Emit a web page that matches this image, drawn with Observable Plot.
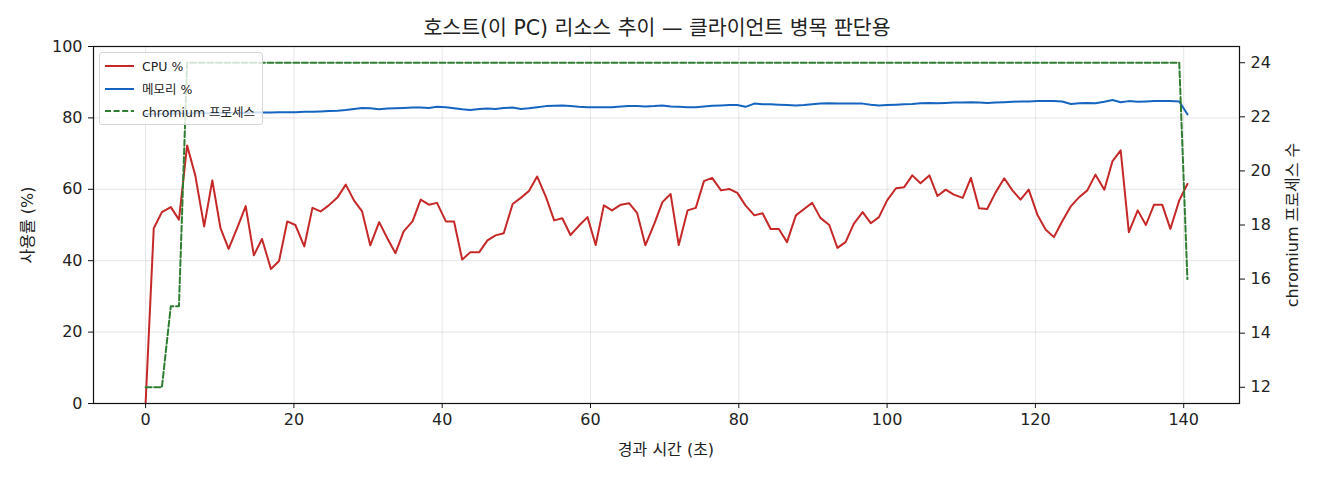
<!DOCTYPE html>
<html>
<head>
<meta charset="utf-8">
<script src="https://cdn.jsdelivr.net/npm/d3@7"></script>
<script src="https://cdn.jsdelivr.net/npm/@observablehq/plot@0.6"></script>
<style>
  html, body { margin: 0; padding: 0; background: #fff; }
  #wrap { position: relative; width: 1320px; height: 480px; font-family: "DejaVu Sans", "Noto Sans CJK KR", sans-serif; color: #222; }
  #chart { position: absolute; left: 0; top: 0; }
  #chart > svg { display: block; }
  .title { position: absolute; left: 84px; width: 1146px; top: 14px; text-align: center; font-size: 20.5px; line-height: 28px; }
  .xlabel { position: absolute; left: 93px; width: 1146px; top: 439px; text-align: center; font-size: 16px; line-height: 22px; }
  .ylabel { position: absolute; font-size: 16px; line-height: 22px; white-space: nowrap; transform: translate(-50%, -50%) rotate(-90deg); }
  .legend { position: absolute; left: 99px; top: 52px; width: 164px; height: 73px; background: rgba(255,255,255,0.8); border: 1px solid #d6d6d6; border-radius: 3px; box-sizing: border-box; }
  .legend .row { position: absolute; left: 5px; height: 20px; display: flex; align-items: center; font-size: 12.5px; white-space: nowrap; }
  .legend .row svg { display: block; margin-right: 8px; }
</style>
</head>
<body>
<div id="wrap">
  <div id="chart"></div>
  <div class="title">호스트(이 PC) 리소스 추이 — 클라이언트 병목 판단용</div>
  <div class="xlabel">경과 시간 (초)</div>
  <div class="ylabel" style="left:28px; top:225px;">사용률 (%)</div>
  <div class="ylabel" style="left:1293px; top:225px;">chromium 프로세스 수</div>
  <div class="legend" id="legend"></div>
</div>
<script>
// ---- data ----
const times = [0.0,1.1,2.2,3.4,4.5,5.6,6.7,7.9,9.0,10.1,11.2,12.4,13.5,14.6,15.7,16.9,18.0,19.1,20.2,21.4,
  22.5,23.6,24.7,25.9,27.0,28.1,29.2,30.3,31.5,32.6,33.7,34.8,36.0,37.1,38.2,39.3,40.5,41.6,42.7,43.8,
  45.0,46.1,47.2,48.3,49.5,50.6,51.7,52.8,54.0,55.1,56.2,57.3,58.4,59.6,60.7,61.8,62.9,64.1,65.2,66.3,
  67.4,68.6,69.7,70.8,71.9,73.1,74.2,75.3,76.4,77.6,78.7,79.8,80.9,82.1,83.2,84.3,85.4,86.5,87.7,88.8,
  89.9,91.0,92.2,93.3,94.4,95.5,96.7,97.8,98.9,100.0,101.2,102.3,103.4,104.5,105.7,106.8,107.9,109.0,110.2,111.3,
  112.4,113.5,114.6,115.8,116.9,118.0,119.1,120.3,121.4,122.5,123.6,124.8,125.9,127.0,128.1,129.3,130.4,131.5,132.6,133.8,
  134.9,136.0,137.1,138.2,139.4,140.5];
const cpuPct = [0,49.1,53.6,55.0,51.5,72.3,63.9,49.6,62.5,49.1,43.3,49.4,55.3,41.5,46.1,37.7,39.9,51.0,50.0,44.0,
  54.8,53.8,55.5,57.8,61.3,56.9,53.8,44.3,50.8,46.3,42.1,48.2,51.0,57.1,55.7,56.2,51.0,51.0,40.3,42.4,
  42.4,45.7,47.1,47.7,55.9,57.6,59.5,63.6,57.8,51.3,51.9,47.2,49.7,52.2,44.4,55.5,54.1,55.7,56.1,53.3,
  44.3,50.3,56.4,58.7,44.4,54.1,54.8,62.3,63.2,59.7,60.1,59.0,55.5,52.7,53.3,48.9,48.9,45.2,52.7,54.5,
  56.2,52.0,50.0,43.6,45.2,50.3,53.6,50.5,52.2,56.9,60.3,60.6,63.9,61.7,63.9,58.1,59.9,58.5,57.6,63.2,
  54.7,54.5,59.0,63.1,59.7,57.1,59.9,52.7,48.7,46.6,51.0,55.3,57.8,59.7,64.1,59.9,67.9,70.9,48.0,54.1,
  50.0,55.7,55.7,48.9,56.9,61.5];
const memPct = [81.0,81.1,81.1,81.2,81.2,81.2,81.3,81.3,81.3,81.4,81.4,81.4,81.4,81.5,81.5,81.5,81.6,81.6,81.6,81.7,
  81.7,81.8,81.9,82.0,82.2,82.5,82.8,82.7,82.4,82.6,82.7,82.8,82.9,82.9,82.8,83.1,83.0,82.7,82.4,82.2,
  82.5,82.6,82.5,82.8,82.9,82.5,82.7,83.0,83.3,83.4,83.5,83.3,83.1,83.0,83.0,83.0,83.0,83.2,83.3,83.3,
  83.2,83.3,83.5,83.2,83.1,83.0,83.0,83.2,83.4,83.5,83.6,83.6,83.1,84.0,83.8,83.8,83.7,83.6,83.5,83.6,
  83.8,84.0,84.1,84.0,84.0,84.0,84.0,83.7,83.5,83.6,83.7,83.8,83.9,84.1,84.2,84.1,84.2,84.3,84.3,84.4,
  84.3,84.2,84.3,84.4,84.5,84.6,84.6,84.7,84.7,84.7,84.6,83.9,84.1,84.2,84.1,84.5,85.0,84.4,84.7,84.5,
  84.6,84.7,84.7,84.7,84.6,81.0];
const procCount = [12,12,12,15,15,24,24,24,24,24,24,24,24,24,24,24,24,24,24,24,
  24,24,24,24,24,24,24,24,24,24,24,24,24,24,24,24,24,24,24,24,
  24,24,24,24,24,24,24,24,24,24,24,24,24,24,24,24,24,24,24,24,
  24,24,24,24,24,24,24,24,24,24,24,24,24,24,24,24,24,24,24,24,
  24,24,24,24,24,24,24,24,24,24,24,24,24,24,24,24,24,24,24,24,
  24,24,24,24,24,24,24,24,24,24,24,24,24,24,24,24,24,24,24,24,
  24,24,24,24,24,16];
const xTicks = [0,20,40,60,80,100,120,140];
const yTicks = [0,20,40,60,80,100];
const procTicks = [12,14,16,18,20,22,24];
const seriesNames = ["CPU %", "메모리 %", "chromium 프로세스"];
const seriesColors = ["#c62828", "#1565c0", "#2e7d32"];

// ---- secondary axis mapping (process count -> left % scale) ----
const procLo = 11.4, procHi = 24.6;
const toLeft = v => (v - procLo) / (procHi - procLo) * 100;
const fromLeft = p => procLo + p / 100 * (procHi - procLo);

const rows = times.map((t, i) => ({t, cpu: cpuPct[i], mem: memPct[i], proc: toLeft(procCount[i])}));

const dash = "6,2.6";
const lw = 2;
const chart = Plot.plot({
  width: 1320,
  height: 480,
  marginLeft: 93,
  marginRight: 81,
  marginTop: 46,
  marginBottom: 77,
  style: {fontFamily: "'DejaVu Sans','Noto Sans CJK KR',sans-serif", fontSize: "16px", color: "#222", background: "transparent"},
  x: {domain: [-7.025, 147.525]},
  y: {domain: [0, 100]},
  marks: [
    Plot.gridX(xTicks, {stroke: "#b0b0b0", strokeOpacity: 0.35, strokeWidth: 0.9}),
    Plot.gridY(yTicks, {stroke: "#b0b0b0", strokeOpacity: 0.35, strokeWidth: 0.9}),
    Plot.line(rows, {x: "t", y: "cpu", stroke: seriesColors[0], strokeWidth: lw}),
    Plot.line(rows, {x: "t", y: "mem", stroke: seriesColors[1], strokeWidth: lw}),
    Plot.line(rows, {x: "t", y: "proc", stroke: seriesColors[2], strokeWidth: lw, strokeDasharray: dash}),
    Plot.frame({stroke: "#111", strokeWidth: 1.2}),
    Plot.axisX(xTicks, {anchor: "bottom", label: null, tickSize: 5, tickPadding: 5, fontSize: 16, stroke: "#111"}),
    Plot.axisY(yTicks, {anchor: "left", label: null, tickSize: 5, tickPadding: 6, fontSize: 16, stroke: "#111"}),
    Plot.axisY(procTicks.map(toLeft), {anchor: "right", label: null, tickSize: 5, tickPadding: 6, fontSize: 16, stroke: "#111",
      tickFormat: d => String(Math.round(fromLeft(d)))})
  ]
});
document.getElementById("chart").appendChild(chart);

// ---- legend ----
const legend = document.getElementById("legend");
const dashes = [null, null, dash];
seriesNames.forEach((name, i) => {
  const row = document.createElement("div");
  row.className = "row";
  row.style.top = (3 + i * 22.5) + "px";
  row.innerHTML = `<svg width="29" height="10"><line x1="0" y1="5" x2="29" y2="5" stroke="${seriesColors[i]}" stroke-width="${lw}" ${dashes[i] ? `stroke-dasharray="${dashes[i]}"` : ""}/></svg><span>${name}</span>`;
  legend.appendChild(row);
});
</script>
</body>
</html>
